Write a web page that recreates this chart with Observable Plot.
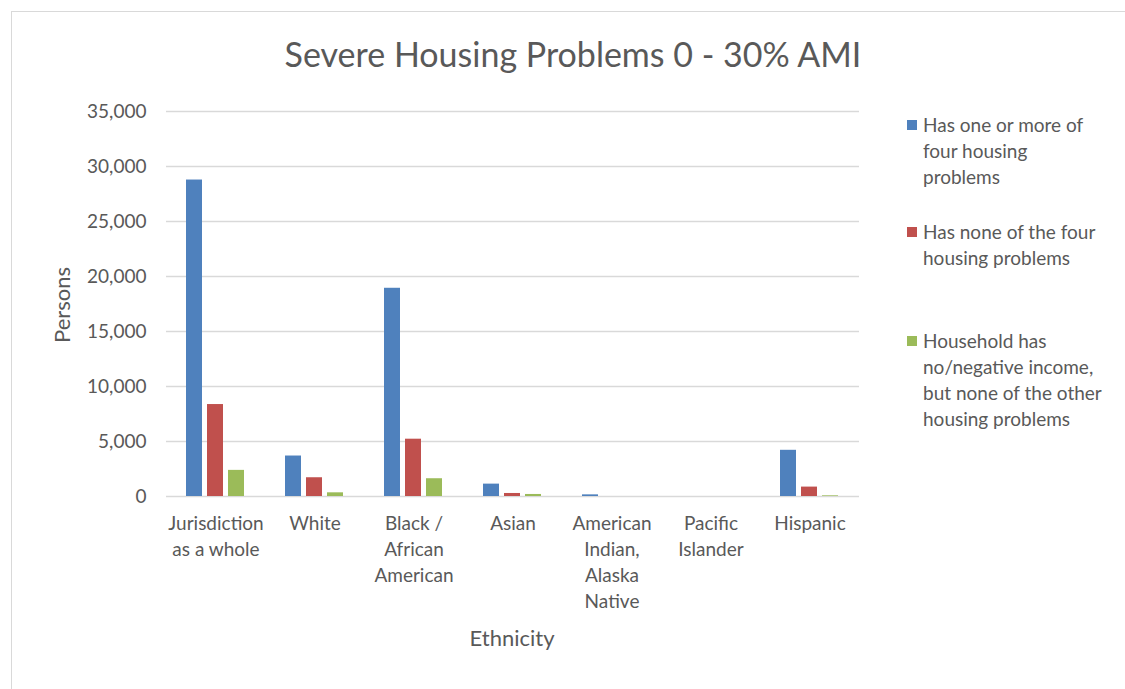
<!DOCTYPE html>
<html>
<head>
<meta charset="utf-8">
<script src="https://cdn.jsdelivr.net/npm/d3@7"></script>
<script src="https://cdn.jsdelivr.net/npm/@observablehq/plot@0.6"></script>
<style>
  html, body { margin: 0; padding: 0; background: #fff; width: 1125px; height: 689px; overflow: hidden; }
  body { position: relative; font-family: Lato, "Open Sans", sans-serif; color: #595959; }
  #frame { position: absolute; left: 11px; top: 11px; width: 1200px; height: 700px; border: 1px solid #d9d9d9; box-sizing: border-box; z-index: 5; pointer-events: none; }
  #title { position: absolute; left: 0; top: 33px; width: 1146px; text-align: center; font-size: 34px; line-height: 42px; color: #595959; }
  #chart { position: absolute; left: 0; top: 95px; }
  .axlab { position: absolute; font-size: 22px; line-height: 26px; color: #595959; white-space: nowrap; }
  #ylab { left: 62px; top: 305px; transform: translate(-50%, -50%) rotate(-90deg); }
  #xlab { left: 512px; top: 638px; transform: translate(-50%, -50%); }
  .leg { position: absolute; left: 907px; font-size: 19px; line-height: 26px; color: #595959; }
  .leg .sw { position: absolute; left: 0; top: 8px; width: 10px; height: 10px; }
  .leg .tx { margin-left: 16px; white-space: nowrap; }
</style>
</head>
<body>
<div id="frame"></div>
<div id="title">Severe Housing Problems 0 - 30% AMI</div>
<div id="chart"></div>
<div id="ylab" class="axlab">Persons</div>
<div id="xlab" class="axlab">Ethnicity</div>
<div id="legend"></div>
<script>
// ---- data ----
const categories = ["Jurisdiction as a whole", "White", "Black / African American", "Asian", "American Indian, Alaska Native", "Pacific Islander", "Hispanic"];
const categoryLabels = ["Jurisdiction\nas a whole", "White", "Black /\nAfrican\nAmerican", "Asian", "American\nIndian,\nAlaska\nNative", "Pacific\nIslander", "Hispanic"];
const series = [
  "Has one or more of four housing problems",
  "Has none of the four housing problems",
  "Household has no/negative income, but none of the other housing problems"
];
const seriesLegendLines = [
  ["Has one or more of", "four housing", "problems"],
  ["Has none of the four", "housing problems"],
  ["Household has", "no/negative income,", "but none of the other", "housing problems"]
];
const hasProblems = [28770, 3680, 18930, 1125, 150, 0, 4200];
const noProblems = [8360, 1705, 5210, 275, 0, 0, 855];
const noIncome = [2375, 335, 1615, 185, 0, 0, 60];
const yTicks = [0, 5000, 10000, 15000, 20000, 25000, 30000, 35000];
const colors = ["#4f81bd", "#c0504d", "#9bbb59"];

const valuesBySeries = [hasProblems, noProblems, noIncome];
const data = categories.flatMap((c, i) => series.map((s, j) => ({category: c, series: s, value: valuesBySeries[j][i]})));
const labelOf = new Map(categories.map((c, i) => [c, categoryLabels[i]]));

const chart = Plot.plot({
  width: 880,
  height: 590,
  marginTop: 16,
  marginLeft: 164,
  marginRight: 20,
  marginBottom: 189,
  style: {fontFamily: "Lato, 'Open Sans', sans-serif", fontSize: "19px", color: "#595959", background: "transparent", overflow: "visible"},
  fx: {domain: categories, padding: 0, label: null, axis: null},
  x: {domain: series, paddingInner: 0.23, paddingOuter: 0.87, axis: null},
  y: {domain: [0, 35000], label: null, axis: null},
  color: {domain: series, range: colors},
  marks: [
    Plot.gridY(yTicks, {stroke: "#d9d9d9", strokeOpacity: 1, strokeWidth: 1.5}),
    Plot.barY(data, {fx: "category", x: "series", y: "value", fill: "series"}),
    Plot.axisY(yTicks, {tickSize: 0, tickPadding: 20, tickFormat: d3.format(","), fontSize: 19, fill: "#595959", label: null}),
    Plot.axisFx({anchor: "bottom", tickSize: 0, tickPadding: 15, tickFormat: d => labelOf.get(d), fontSize: 19, fill: "#595959", lineHeight: 1.365, label: null})
  ]
});
document.getElementById("chart").appendChild(chart);

// legend
const legendTops = [112, 219, 328];
const legend = document.getElementById("legend");
series.forEach((s, i) => {
  const div = document.createElement("div");
  div.className = "leg";
  div.style.top = legendTops[i] + "px";
  div.innerHTML = `<span class="sw" style="background:${colors[i]}"></span><div class="tx">${seriesLegendLines[i].join("<br>")}</div>`;
  legend.appendChild(div);
});
</script>
</body>
</html>
